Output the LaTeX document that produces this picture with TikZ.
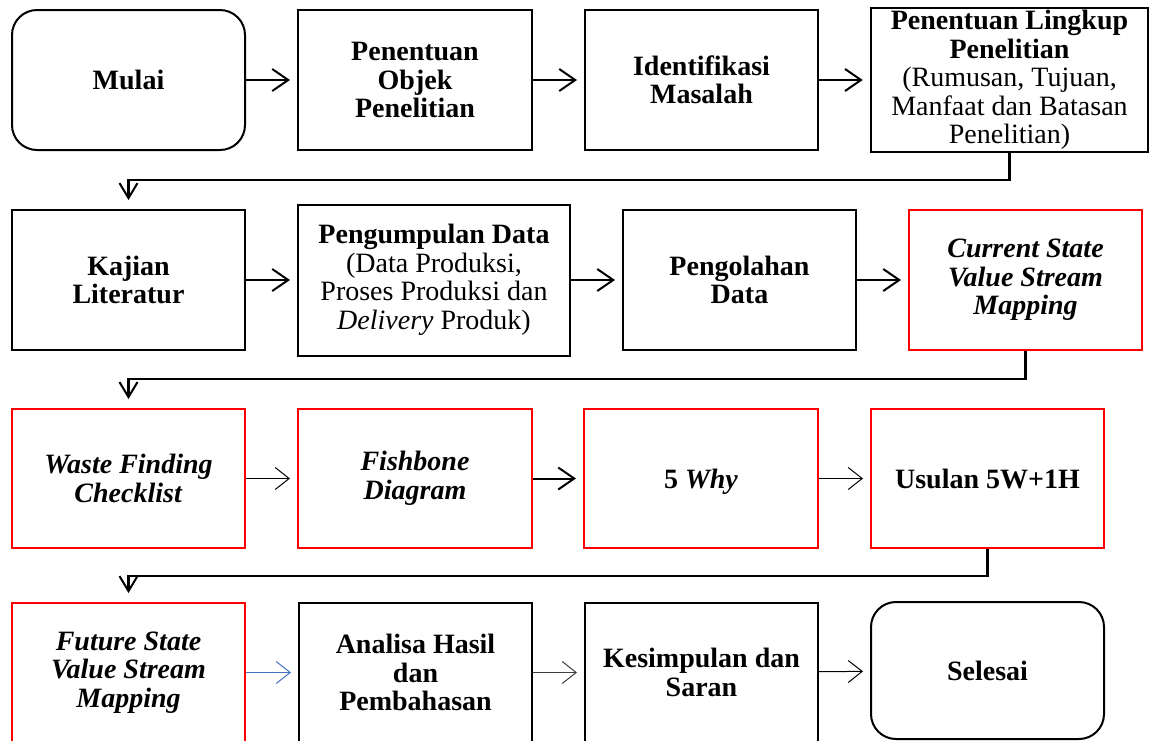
\documentclass[tikz,border=0pt]{standalone}
\usepackage{fontspec}
\setmainfont{Liberation Serif}
\usetikzlibrary{arrows.meta}
\definecolor{arrowblue}{RGB}{68,114,196}
\definecolor{boxred}{RGB}{255,0,0}
\tikzset{
  box/.style={draw=black, line width=2pt, inner sep=0pt, align=center,
    font=\fontsize{28}{28.5}\selectfont, text=black},
  redbox/.style={box, draw=boxred},
  roundbox/.style={box, rounded corners=25pt},
  head/.style={-{Straight Barb[length=16pt,width=22pt,line width=2pt]}},
  thickarrow/.style={head, line width=2pt, shorten >=7pt},
  thinarrow/.style={-{Straight Barb[length=14pt,width=22pt,line width=1pt]}, line width=1pt, shorten >=7pt},
  downconn/.style={line width=2.4pt, -{Straight Barb[length=15pt,width=18pt,line width=2pt]}, shorten >=9pt},
}
\begin{document}
\begin{tikzpicture}[x=1pt,y=-1pt]
\useasboundingbox[fill=white] (0,0) rectangle (1150,740);
% row 1
\node[roundbox, minimum width=233pt, minimum height=140pt] (mulai) at (128.5,80) {\textbf{Mulai}};
\node[box, minimum width=234pt, minimum height=140pt] (objek) at (415,80) {\textbf{Penentuan}\\\textbf{Objek}\\\textbf{Penelitian}};
\node[box, minimum width=233pt, minimum height=140pt] (masalah) at (701.5,80) {\textbf{Identifikasi}\\\textbf{Masalah}};
\node[box, line width=2.4pt, minimum width=277pt, minimum height=144pt] (lingkup) at (1009.5,80) {\textbf{Penentuan Lingkup}\\\textbf{Penelitian}\\(Rumusan, Tujuan,\\Manfaat dan Batasan\\Penelitian)};
% row 2
\node[box, minimum width=233pt, minimum height=140pt] (kajian) at (128.5,280) {\textbf{Kajian}\\\textbf{Literatur}};
\node[box, minimum width=272pt, minimum height=151pt] (kumpul) at (434,280) {\textbf{Pengumpulan Data}\\(Data Produksi,\\Proses Produksi dan\\\textit{Delivery} Produk)};
\node[box, minimum width=233pt, minimum height=140pt] (olah) at (739.5,280) {\textbf{Pengolahan}\\\textbf{Data}};
\node[redbox, minimum width=233pt, minimum height=140pt] (current) at (1025.5,280) {\textbf{\textit{Current State}}\\\textbf{\textit{Value Stream}}\\\textbf{\textit{Mapping}}};
% row 3
\node[redbox, minimum width=233pt, minimum height=139pt] (waste) at (128.5,478.5) {\textbf{\textit{Waste Finding}}\\\textbf{\textit{Checklist}}};
\node[redbox, minimum width=234pt, minimum height=139pt] (fish) at (415,478.5) {\textbf{\textit{Fishbone}}\\\textbf{\textit{Diagram}}};
\node[redbox, minimum width=234pt, minimum height=139pt] (why) at (701,478.5) {\raisebox{-10pt}[0pt][0pt]{\textbf{5 \textit{Why}}}};
\node[redbox, minimum width=233pt, minimum height=139pt] (usulan) at (987.5,478.5) {\raisebox{-10pt}[0pt][0pt]{\textbf{Usulan 5W+1H}}};
% row 4
\node[redbox, minimum width=233pt, minimum height=139pt] (future) at (128.5,672.5) {\textbf{\textit{Future State}}\\\textbf{\textit{Value Stream}}\\\textbf{\textit{Mapping}}};
\node[box, minimum width=233pt, minimum height=139pt] (analisa) at (415.5,672.5) {\textbf{Analisa Hasil}\\\textbf{dan}\\\textbf{Pembahasan}};
\node[box, minimum width=233pt, minimum height=139pt] (simpul) at (701.5,672.5) {\textbf{Kesimpulan dan}\\\textbf{Saran}};
\node[roundbox, minimum width=233pt, minimum height=137pt] (selesai) at (987.5,670.5) {\textbf{Selesai}};
% horizontal arrows
\draw[thickarrow] (mulai) -- (objek);
\draw[thickarrow] (objek) -- (masalah);
\draw[thickarrow] (masalah) -- (lingkup);
\draw[thickarrow] (kajian) -- (kumpul);
\draw[thickarrow] (kumpul) -- (olah);
\draw[thickarrow] (olah) -- (current);
\draw[thinarrow] (waste) -- (fish);
\draw[thickarrow] (fish) -- (why);
\draw[thinarrow] (why) -- (usulan);
\draw[thinarrow, draw=arrowblue] (future) -- (analisa);
\draw[thinarrow, draw=black!75] (analisa) -- (simpul);
\draw[thinarrow] (simpul) -- (selesai);
% row connectors
\coordinate (r1) at (0,180);
\coordinate (r2) at (0,379);
\coordinate (r3) at (0,576);
\draw[downconn] (lingkup.south) -- (lingkup.south |- r1) -| (kajian.north);
\draw[downconn] (current.south) -- (current.south |- r2) -| (waste.north);
\draw[downconn] (usulan.south) -- (usulan.south |- r3) -| (future.north);
\end{tikzpicture}
\end{document}
